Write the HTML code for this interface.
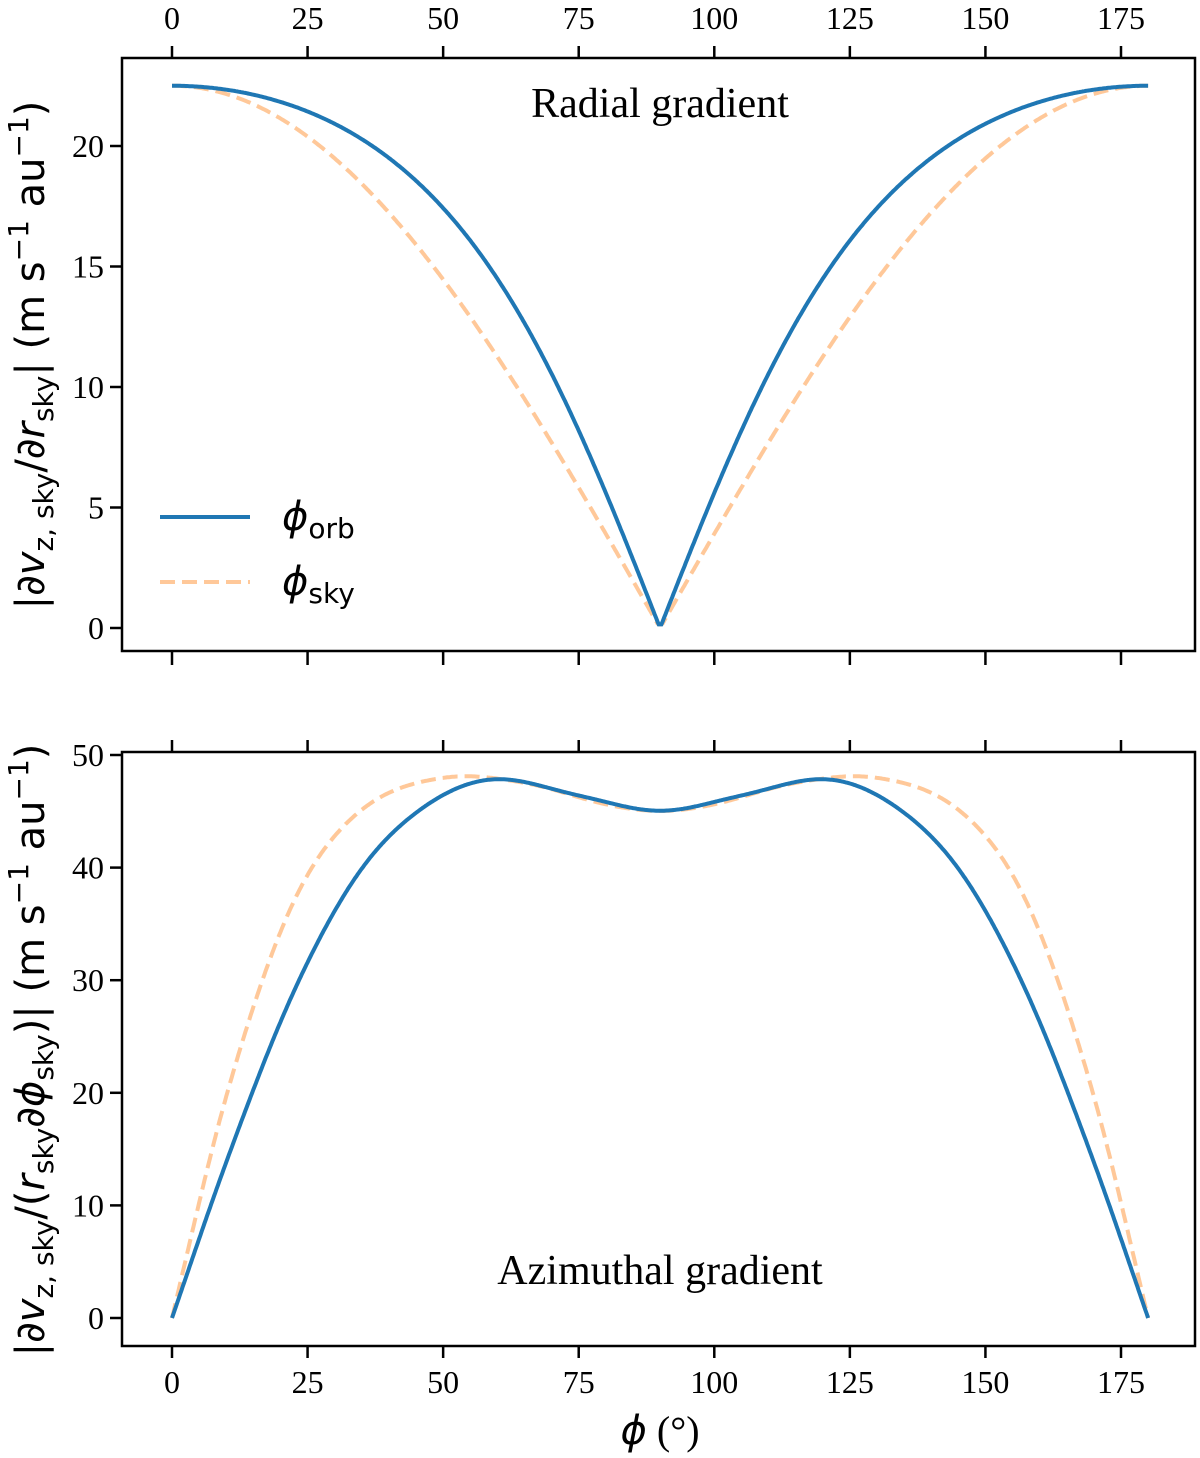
<!DOCTYPE html>
<html><head><meta charset="utf-8"><style>
html,body{margin:0;padding:0;background:#fff;}
svg text{font-family:"Liberation Serif",serif;fill:#000;}
</style></head><body>
<svg id="s" width="1200" height="1453" xmlns="http://www.w3.org/2000/svg"></svg>
<script>
const S=document.getElementById('s');let h='';
const X=p=>172+p*949/175;
const L=122,R=1195;
const T1=58,B1=651,T2=752,B2=1346;
const Y1=v=>628-v*24.1, Y2=v=>1318-v*11.26;
h+=`<rect x="${L}" y="${T1}" width="${R-L}" height="${B1-T1}" fill="none" stroke="#000" stroke-width="2.5"/>`;
h+=`<rect x="${L}" y="${T2}" width="${R-L}" height="${B2-T2}" fill="none" stroke="#000" stroke-width="2.5"/>`;
for(let p=0;p<=175;p+=25){const x=X(p);
 h+=`<line x1="${x}" y1="${T1}" x2="${x}" y2="${T1-12}" stroke="#000" stroke-width="2.5"/>`;
 h+=`<line x1="${x}" y1="${B1}" x2="${x}" y2="${B1+14}" stroke="#000" stroke-width="2.5"/>`;
 h+=`<line x1="${x}" y1="${T2}" x2="${x}" y2="${T2-12}" stroke="#000" stroke-width="2.5"/>`;
 h+=`<line x1="${x}" y1="${B2}" x2="${x}" y2="${B2+12}" stroke="#000" stroke-width="2.5"/>`;
 h+=`<text x="${x}" y="29" font-size="32" text-anchor="middle">${p}</text>`;
 h+=`<text x="${x}" y="1393" font-size="32" text-anchor="middle">${p}</text>`;
}
for(let v=0;v<=20;v+=5){const y=Y1(v);
 h+=`<line x1="${L}" y1="${y}" x2="${L-12}" y2="${y}" stroke="#000" stroke-width="2.5"/>`;
 h+=`<text x="${L-18}" y="${y+11}" font-size="32" text-anchor="end">${v}</text>`;}
for(let v=0;v<=50;v+=10){const y=Y2(v);
 h+=`<line x1="${L}" y1="${y}" x2="${L-12}" y2="${y}" stroke="#000" stroke-width="2.5"/>`;
 h+=`<text x="${L-18}" y="${y+11}" font-size="32" text-anchor="end">${v}</text>`;}
function path(f,Y){let d='';for(let p=0;p<=180;p+=0.25){d+=(p?'L':'M')+X(p).toFixed(1)+','+Y(f(p)).toFixed(1);}return d;}
function mk(P,s0,s90){
 const n=P.length,m=[];
 for(let i=0;i<n;i++){
  if(i==0) m.push(s0!=null?s0:(P[1][1]-P[0][1])/(P[1][0]-P[0][0]));
  else if(i==n-1) m.push(s90!=null?s90:(P[n-1][1]-P[n-2][1])/(P[n-1][0]-P[n-2][0]));
  else m.push((P[i+1][1]-P[i-1][1])/(P[i+1][0]-P[i-1][0]));}
 const raw=q=>{const sg=q<0?-1:1;q=Math.abs(q);const p=Math.min(q,180-q);let i=0;while(i<n-2&&P[i+1][0]<p)i++;
  const hh=P[i+1][0]-P[i][0],t=(p-P[i][0])/hh,t2=t*t,t3=t2*t;
  return sg*((2*t3-3*t2+1)*P[i][1]+(t3-2*t2+t)*m[i]*hh+(-2*t3+3*t2)*P[i+1][1]+(t3-t2)*m[i+1]*hh);};
 return q=>{let s=0,w=0;for(let k=-12;k<=12;k++){const d=k*0.5,ww=Math.exp(-d*d/(2*2.2*2.2));let qq=q+d;
   if(qq>180)qq=360-qq-0; // odd reflection at 180
   const v=(q+d>180)?-raw(360-(q+d)-180+0):raw(qq);
   s+=ww*((q+d>180)?-raw((q+d)-180-0>0?(q+d)-180:0)*0+(-raw(180-(q+d)+180-180)) :raw(qq));w+=ww;}
  return s/w;};}
// simpler smoothing with odd extension at both ends
function mk2(P){const n=P.length,m=[];
 for(let i=0;i<n;i++){ if(i==0)m.push((P[1][1]-P[0][1])/(P[1][0]-P[0][0])); else if(i==n-1)m.push(0); else m.push((P[i+1][1]-P[i-1][1])/(P[i+1][0]-P[i-1][0]));}
 const half=p=>{let i=0;while(i<n-2&&P[i+1][0]<p)i++;const hh=P[i+1][0]-P[i][0],t=(p-P[i][0])/hh,t2=t*t,t3=t2*t;
  return (2*t3-3*t2+1)*P[i][1]+(t3-2*t2+t)*m[i]*hh+(-2*t3+3*t2)*P[i+1][1]+(t3-t2)*m[i+1]*hh;};
 const ext=q=>{if(q<0)return -ext(-q); if(q>180)return -ext(360-q); return half(Math.min(q,180-q));};
 return q=>{let s=0,w=0;for(let k=-12;k<=12;k++){const d=k*0.5,ww=Math.exp(-d*d/(2*2.2*2.2));s+=ww*ext(q+d);w+=ww;}return s/w;};}
const rad=Math.PI/180;
const fo=p=>{const c=Math.abs(Math.cos(p*rad)),s=Math.sin(p*rad);return Math.max(0.15,22.5*c/Math.sqrt(c*c+0.47*s*s));};
const fs=p=>Math.max(0.15,22.5*Math.abs(Math.cos(p*rad)));
const go=mk2([[0,0],[10.1,14.0],[22.4,29.0],[34.7,39.8],[47,45.6],[59.2,47.9],[75,46.4],[90,45]]);
const gs=mk2([[0,0],[10.1,20.0],[22.4,37.1],[34.7,45.1],[50,48.0],[65.4,47.5],[80,45.6],[90,45]]);
h+=`<path d="${path(fs,Y1)}" fill="none" stroke="#ffc899" stroke-width="4" stroke-dasharray="15,7"/>`;
h+=`<path d="${path(fo,Y1)}" fill="none" stroke="#1f77b4" stroke-width="4"/>`;
h+=`<path d="${path(gs,Y2)}" fill="none" stroke="#ffc899" stroke-width="4" stroke-dasharray="15,7"/>`;
h+=`<path d="${path(go,Y2)}" fill="none" stroke="#1f77b4" stroke-width="4"/>`;
h+=`<text x="660" y="117" font-size="42" text-anchor="middle">Radial gradient</text>`;
h+=`<text x="660" y="1284" font-size="42" text-anchor="middle">Azimuthal gradient</text>`;
h+=`<line x1="160" y1="517" x2="250" y2="517" stroke="#1f77b4" stroke-width="4"/>`;
h+=`<line x1="160" y1="582" x2="250" y2="582" stroke="#ffc899" stroke-width="4" stroke-dasharray="15,7"/>`;
h+=`<text x="282" y="530" font-size="40" font-style="italic" style="font-family:'DejaVu Sans',sans-serif">ϕ<tspan font-size="28" font-style="normal" dy="8">orb</tspan></text>`;
h+=`<text x="282" y="595" font-size="40" font-style="italic" style="font-family:'DejaVu Sans',sans-serif">ϕ<tspan font-size="28" font-style="normal" dy="8">sky</tspan></text>`;
h+=`<text transform="translate(44,355) rotate(-90)" font-size="40" text-anchor="middle" style="font-family:'DejaVu Sans',sans-serif">|∂<tspan font-style="italic">v</tspan><tspan font-size="28" dy="9">z, sky</tspan><tspan dy="-9">/∂</tspan><tspan font-style="italic">r</tspan><tspan font-size="28" dy="9">sky</tspan><tspan dy="-9">|  (m s</tspan><tspan font-size="28" dy="-16">−1</tspan><tspan dy="16"> au</tspan><tspan font-size="28" dy="-16">−1</tspan><tspan dy="16">)</tspan></text>`;
h+=`<text transform="translate(44,1050) rotate(-90)" font-size="40" text-anchor="middle" style="font-family:'DejaVu Sans',sans-serif">|∂<tspan font-style="italic">v</tspan><tspan font-size="28" dy="9">z, sky</tspan><tspan dy="-9">/(</tspan><tspan font-style="italic">r</tspan><tspan font-size="28" dy="9">sky</tspan><tspan dy="-9">∂</tspan><tspan font-style="italic">ϕ</tspan><tspan font-size="28" dy="9">sky</tspan><tspan dy="-9">)| (m s</tspan><tspan font-size="28" dy="-16">−1</tspan><tspan dy="16"> au</tspan><tspan font-size="28" dy="-16">−1</tspan><tspan dy="16">)</tspan></text>`;
h+=`<text x="660" y="1444" font-size="40" text-anchor="middle"><tspan font-style="italic" style="font-family:'DejaVu Sans',sans-serif">ϕ</tspan> (°)</text>`;
S.innerHTML=h;
</script>
</body></html>
